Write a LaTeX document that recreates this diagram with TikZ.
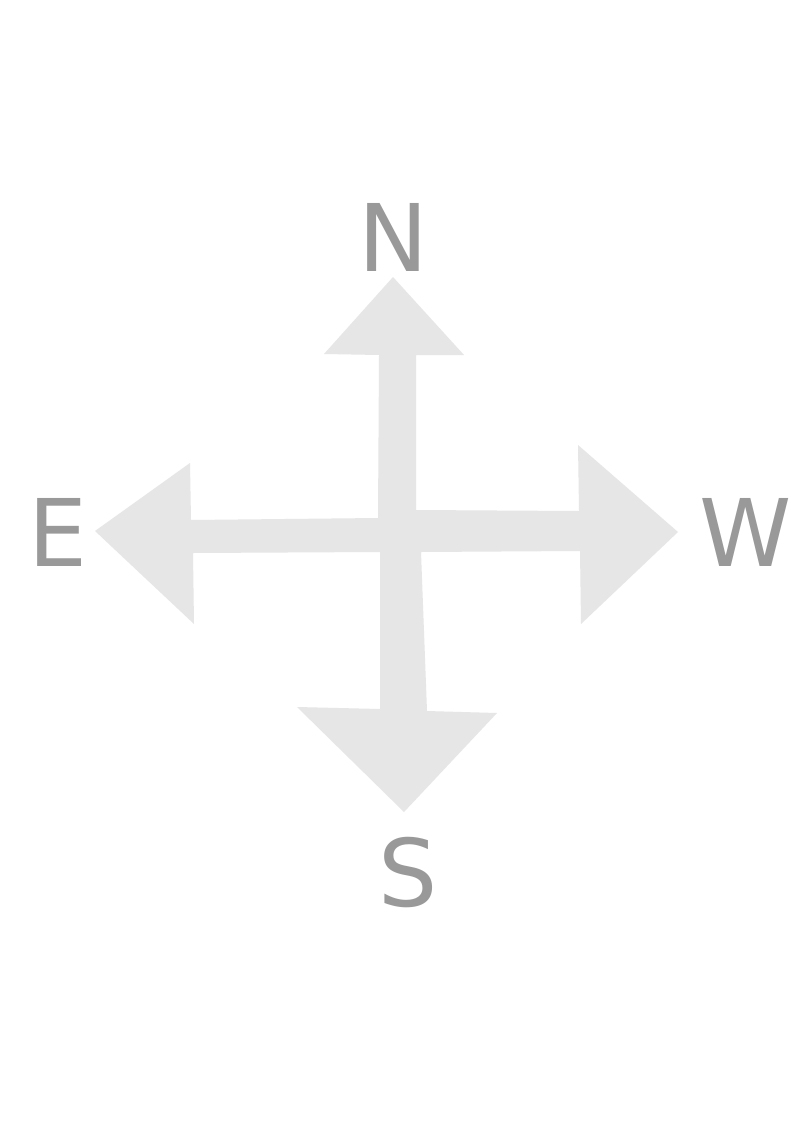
\documentclass[tikz,border=0pt]{standalone}
\usepackage{fontspec}
\setmainfont{DejaVu Sans}
\definecolor{arrowgray}{HTML}{E6E6E6}
\definecolor{lettergray}{HTML}{999999}
\begin{document}
\begin{tikzpicture}[x=0.75pt,y=-0.75pt,
  letter/.style={text=lettergray,font=\fontsize{70}{70}\selectfont,inner sep=0pt,anchor=base},
  compass/.style={fill=arrowgray,draw=none}]
\useasboundingbox (0,0) rectangle (794,1123);
\fill[white] (0,0) rectangle (794,1123);
\path[compass] (393,277) -- (464,355) -- (416,355) -- (416,510) -- (579,511)
  -- (578,445) -- (678,532) -- (581,624) -- (580,551) -- (421,552)
  -- (427,711) -- (497,713) -- (404,812) -- (297,707) -- (380,709)
  -- (380,552) -- (193,553) -- (194,624) -- (95,531) -- (190,463)
  -- (191,520) -- (378,518) -- (379,355) -- (324,354) -- cycle;
\node[letter] (N) at (393,271) {N};
\node[letter] (E) at (58,566) {E};
\node[letter] (W) at (746,566) {W};
\node[letter] (S) at (408,906) {S};
\end{tikzpicture}
\end{document}
